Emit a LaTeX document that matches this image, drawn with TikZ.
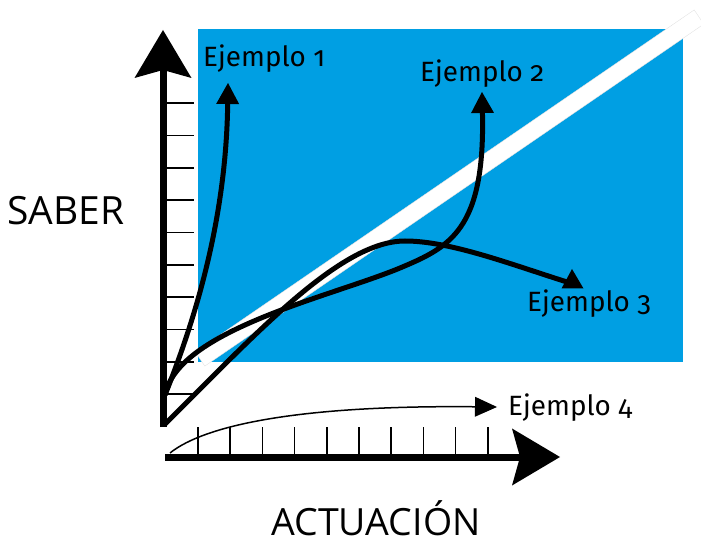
\documentclass[tikz,border=0pt]{standalone}
\usepackage{fontspec}
\setmainfont{Open Sans}
\newfontfamily\firafont[Numbers=OldStyle]{Fira Sans}
\usetikzlibrary{arrows.meta}
\definecolor{bluebg}{RGB}{0,159,227}
\begin{document}
\begin{tikzpicture}[x=0.03cm,y=-0.03cm,
  axis/.style={line width=0.21cm, line cap=butt, -{Stealth[length=1.44cm,width=1.71cm,inset=0.24cm,line width=0pt]}},
  tickline/.style={line width=0.05cm},
  curve/.style={line width=0.15cm, line cap=butt},
  curvearrow/.style={curve, -{Triangle[length=0.63cm,width=0.69cm,line width=0pt]}},
  thincurve/.style={line width=0.045cm, -{Triangle[length=0.66cm,width=0.6cm,line width=0pt]}},
  lab/.style={font=\firafont\fontsize{23.8}{28}\selectfont, anchor=base west, inner sep=0pt},
  axlab/.style={font=\fontsize{33.2}{40}\selectfont, anchor=base, inner sep=0pt}]
\useasboundingbox (0,0) rectangle (701,544);
% background
\fill[bluebg] (198,29) rectangle (683,362);
\filldraw[fill=white, draw=black!12, line width=0.3pt]
  (204.8,366.1) -- (195.2,351.9) -- (694.2,9.9) -- (703.8,24.1) -- cycle;
% axes
\coordinate (yo) at (163,427);
\coordinate (yt) at (163,30);
\coordinate (xo) at (165,457);
\coordinate (xt) at (560,457);
\draw[axis] (yo) -- (yt);
\draw[axis] (xo) -- (xt);
\foreach \k in {0,...,9} {
  \draw[tickline] (163,{103+32.35*\k}) -- (194,{103+32.35*\k});
  \draw[tickline] ({198+32.2*\k},427) -- ({198+32.2*\k},457);
}
% curves
\coordinate (o1) at (165,395);
\coordinate (t1) at (228,83);
\coordinate (o3) at (164,425);
\coordinate (p3) at (405,241);
\coordinate (e3) at (567,282);
\coordinate (m2) at (400,268);
\coordinate (t2) at (482,92);
\coordinate (o4) at (170,453);
\coordinate (t4) at (497,407);
\draw[curvearrow] (o1) .. controls (195,320) and (226,220) .. (t1);
\draw[curvearrow] (o1) .. controls (178,330) and (330,297) .. (m2)
   .. controls (450,247) and (485,230) .. (t2);
\draw[curve] (o3) .. controls (255,335) and (340,241) .. (p3)
   .. controls (450,241) and (510,264) .. (e3);
\fill (572,269) -- (561.5,288.5) -- (583.5,288.5) -- cycle;
\draw[thincurve] (o4) .. controls (205,425) and (300,405) .. (t4);
% labels
\node[lab] (l1) at (203,67) {Ejemplo 1};
\node[lab] (l2) at (420,82) {Ejemplo 2};
\node[lab] (l3) at (527,312) {Ejemplo 3};
\node[lab] (l4) at (508,415) {Ejemplo 4};
\node[axlab, anchor=base west] (sab) at (7,225) {SABER};
\node[axlab, font=\fontsize{32}{38}\selectfont] (act) at (376,535) {ACTUACIÓN};
\end{tikzpicture}
\end{document}
